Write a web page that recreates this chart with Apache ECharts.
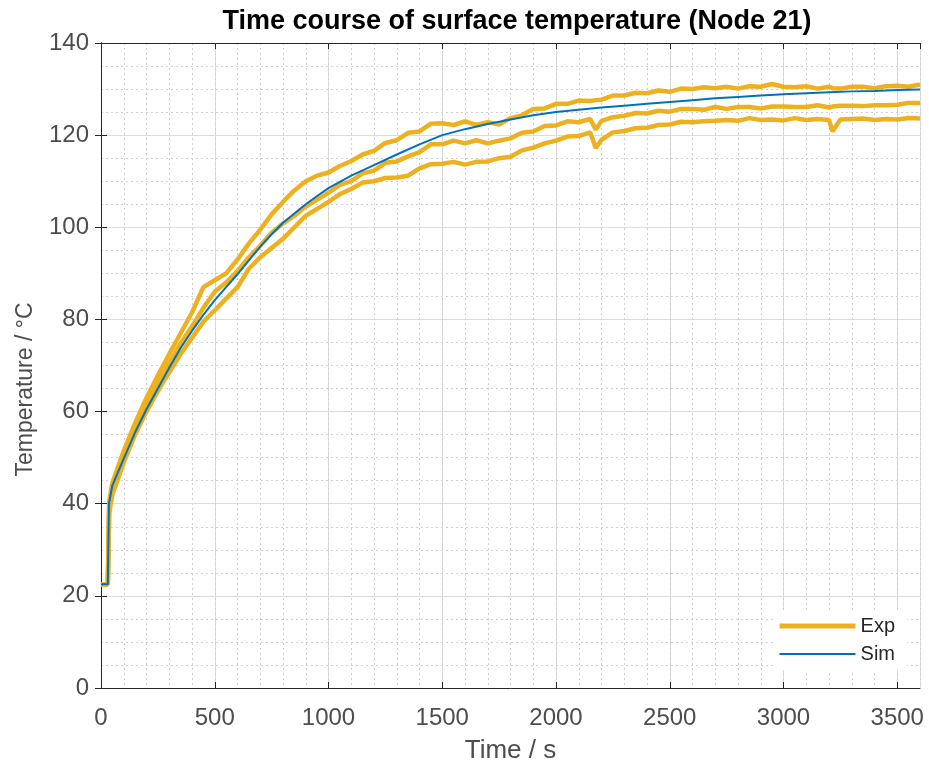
<!DOCTYPE html>
<html>
<head>
<meta charset="utf-8">
<script src="https://cdn.jsdelivr.net/npm/echarts@6/dist/echarts.min.js"></script>
<style>
  html, body { margin: 0; padding: 0; background: #fff; }
  #main { width: 929px; height: 766px; }
</style>
</head>
<body>
<div id="main"></div>
<script>
// time axis of the measured curves (s)
var expTime = [0, 30, 36,
  50, 100, 150, 200, 250, 300, 350, 400, 450, 500, 550, 600, 650, 700, 750, 800, 850, 900, 950, 1000,
  1050, 1100, 1150, 1200, 1250, 1300, 1350, 1400, 1450, 1500, 1550, 1600, 1650, 1700, 1750, 1800, 1850, 1900, 1950, 2000,
  2050, 2100, 2150, 2175, 2200, 2250, 2300, 2350, 2400, 2450, 2500, 2550, 2600, 2650, 2700, 2750, 2800, 2850, 2900, 2950, 3000,
  3050, 3100, 3150, 3200, 3215, 3250, 3300, 3350, 3400, 3450, 3500, 3550, 3600];

// three measured runs (upper, middle, lower)
var expUpper = [22.5, 22.5, 40.5,
  44.5, 51.5, 57.5, 63, 67.8, 72.5, 77, 81.5, 87, 88.5, 90, 93, 96.5, 99.5, 102.8, 105.5, 108, 110, 111.2, 111.9,
  113.3, 114.4, 115.8, 116.6, 118.3, 118.9, 120.5, 120.8, 122.5, 122.6, 122.2, 123, 122.2, 122.8, 122.3, 123.7, 124.3, 125.7, 125.8, 126.8,
  126.8, 127.5, 127.4, 127.6, 127.7, 128.6, 128.6, 129.2, 129.1, 129.7, 129.4, 130.1, 130, 130.4, 130.2, 130.5, 130.1, 130.6, 130.5, 131.1, 130.5,
  130.4, 130.6, 130.1, 130.5, 130.2, 130.1, 130.5, 130.5, 130.2, 130.6, 130.7, 130.5, 131];
var expMiddle = [22.5, 22.5, 39.5,
  43.5, 50.5, 56, 61.5, 66, 70.5, 74.8, 78.5, 82.5, 86, 88, 90.5, 93.5, 96, 98.8, 100.8, 102.5, 104.5, 106, 107.5,
  109.2, 110, 111.7, 112.3, 114, 114.3, 115.4, 116.3, 118, 118, 118.8, 118.2, 118.9, 118.2, 118.8, 119.3, 120.5, 120.8, 122, 122.1,
  123, 122.8, 123.5, 121.2, 123.1, 123.9, 124.2, 124.8, 124.7, 125.3, 125.1, 125.7, 125.7, 125.5, 126.1, 125.7, 126.1, 126.1, 125.8, 126.2, 126.2,
  126.1, 126.1, 126.5, 126, 126.2, 126.4, 126.4, 126.3, 126.5, 126.5, 126.6, 127, 127];
var expLower = [22.5, 22.5, 38,
  42, 49, 55, 60, 64.5, 68.5, 72.5, 76, 79.5, 82, 84.5, 87, 91, 93.5, 95.5, 97.5, 100, 102.5, 104, 105.5,
  107.2, 108.3, 109.7, 110, 110.7, 110.8, 111.2, 112.8, 113.7, 113.8, 114.2, 113.6, 114.2, 114.3, 115, 115.3, 116.7, 117.3, 118.2, 118.8,
  119.7, 119.8, 120.6, 117.2, 119, 120.6, 120.9, 121.5, 121.6, 122.2, 122.3, 122.9, 122.8, 123, 123.1, 123.3, 123.1, 123.7, 123.3, 123.4, 123.2,
  123.7, 123.3, 123.5, 123.3, 120.8, 123.4, 123.5, 123.6, 123.3, 123.5, 123.4, 123.7, 123.6];

// simulation
var simTime = [0, 30, 35, 50, 100, 150, 200, 250, 300, 350, 400, 450, 500, 550, 600, 650, 700, 750, 800, 850, 900, 950, 1000,
  1100, 1200, 1300, 1400, 1500, 1600, 1700, 1800, 1900, 2000, 2100, 2200, 2300, 2400, 2500, 2600, 2700, 2800, 2900, 3000,
  3100, 3200, 3300, 3400, 3500, 3600];
var simTemp = [22.5, 22.5, 40, 44, 49.8, 55.5, 60.5, 65, 69.5, 73.8, 77.5, 81, 84.2, 87, 89.8, 92.8, 95.8, 98.5, 101, 103, 105, 106.8, 108.5,
  111.2, 113.5, 115.8, 118, 120, 121.3, 122.4, 123.4, 124.3, 125, 125.5, 126, 126.4, 126.8, 127.2, 127.6, 128, 128.3, 128.6, 128.9,
  129.1, 129.3, 129.5, 129.6, 129.8, 129.9];

function zip(xs, ys) {
  var out = [];
  for (var i = 0; i < xs.length; i++) out.push([xs[i], ys[i]]);
  return out;
}

var FONT = '"Liberation Sans", Arial, sans-serif';
var axisColor = '#262626';
var labelColor = '#4d4d4d';

var chart = echarts.init(document.getElementById('main'), null, { renderer: 'canvas' });

var expLine = { color: '#EDB120', width: 4.5 };

var option = {
  animation: false,
  backgroundColor: '#fff',
  title: {
    text: 'Time course of surface temperature (Node 21)',
    left: 512,
    textAlign: 'center',
    top: 3,
    textStyle: { fontFamily: FONT, fontWeight: 'bold', fontSize: 27, color: '#000' }
  },
  grid: { left: 101, right: 9, top: 43, bottom: 78, outerBoundsMode: 'none', containLabel: false },
  legend: {
    data: [
      { name: 'Exp', icon: 'path://M0,0H76V5H0Z' },
      { name: 'Sim', icon: 'path://M0,0H76V2.2H0Z' }
    ],
    orient: 'vertical',
    right: 22,
    bottom: 96,
    backgroundColor: '#fff',
    padding: [6, 12, 6, 6],
    itemWidth: 76,
    itemHeight: 14,
    itemGap: 8,
    textStyle: { fontFamily: FONT, fontSize: 20, color: axisColor }
  },
  xAxis: [
    {
      type: 'value', min: 0, max: 3600, interval: 500, position: 'bottom',
      name: 'Time / s', nameLocation: 'middle', nameGap: 50,
      nameTextStyle: { fontFamily: FONT, fontSize: 26, color: labelColor },
      axisLine: { show: true, lineStyle: { color: axisColor, width: 1 } },
      axisTick: { show: true, inside: true, length: 6, lineStyle: { color: axisColor } },
      axisLabel: { fontFamily: FONT, fontSize: 24, color: labelColor, margin: 18, showMaxLabel: false,
        formatter: function (v) { return String(v); } },
      splitLine: { show: true, lineStyle: { color: '#dcdcdc', width: 1 } }
    },
    {
      // minor grid every 100 s
      type: 'value', min: 0, max: 3600, interval: 100, position: 'bottom',
      axisLine: { show: false }, axisTick: { show: false }, axisLabel: { show: false },
      splitLine: { show: true, lineStyle: { color: '#d0d0d0', width: 1, type: [2, 3] } }
    },
    {
      type: 'value', min: 0, max: 3600, interval: 500, position: 'top',
      axisLine: { show: true, lineStyle: { color: axisColor, width: 1 } },
      axisTick: { show: true, inside: true, length: 6, lineStyle: { color: axisColor } },
      axisLabel: { show: false }, splitLine: { show: false }
    }
  ],
  yAxis: [
    {
      type: 'value', min: 0, max: 140, interval: 20, position: 'left',
      name: 'Temperature / °C', nameLocation: 'middle', nameGap: 64, nameRotate: 90,
      nameTextStyle: { fontFamily: FONT, fontSize: 23, color: labelColor, padding: [0, 48, 0, 0] },
      axisLine: { show: true, lineStyle: { color: axisColor, width: 1 } },
      axisTick: { show: true, inside: true, length: 6, lineStyle: { color: axisColor } },
      axisLabel: { fontFamily: FONT, fontSize: 24, color: labelColor, margin: 12 },
      splitLine: { show: true, lineStyle: { color: '#dcdcdc', width: 1 } },
      minorTick: { show: false, splitNumber: 4 },
      minorSplitLine: { show: true, lineStyle: { color: '#d0d0d0', width: 1, type: [2, 3] } }
    },
    {
      type: 'value', min: 0, max: 140, interval: 20, position: 'right',
      axisLine: { show: true, lineStyle: { color: axisColor, width: 1 } },
      axisTick: { show: true, inside: true, length: 6, lineStyle: { color: axisColor } },
      axisLabel: { show: false }, splitLine: { show: false }
    }
  ],
  series: [
    { name: 'Exp', type: 'line', symbol: 'none', color: '#EDB120', lineStyle: expLine, data: zip(expTime, expUpper) },
    { name: 'Exp', type: 'line', symbol: 'none', color: '#EDB120', lineStyle: expLine, data: zip(expTime, expMiddle) },
    { name: 'Exp', type: 'line', symbol: 'none', color: '#EDB120', lineStyle: expLine, data: zip(expTime, expLower) },
    { name: 'Sim', type: 'line', symbol: 'none', color: '#0072BD', lineStyle: { color: '#0072BD', width: 2 }, data: zip(simTime, simTemp) }
  ]
};
chart.setOption(option);
</script>
</body>
</html>
